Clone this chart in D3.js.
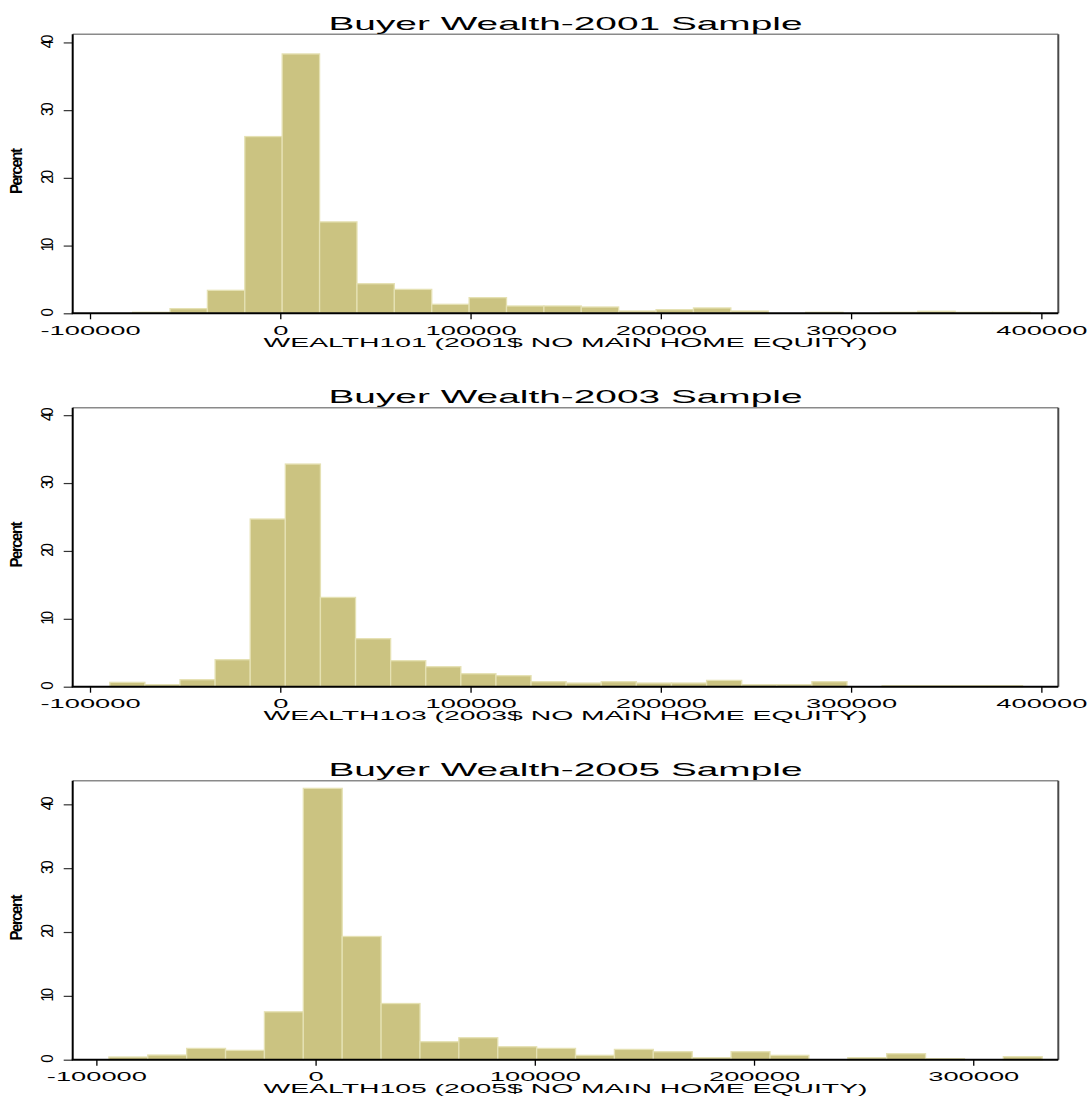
<!DOCTYPE html>
<html>
<head>
<meta charset="utf-8">
<script src="https://cdn.jsdelivr.net/npm/d3@7"></script>
<style>
  body { margin: 0; background: #fff; }
  svg { display: block; }
  text { font-family: 'Liberation Sans', Arial, Helvetica, sans-serif; fill: #000; }
</style>
</head>
<body>
<div id="chart"></div>
<script>
// values (percent per bin)
const titles = ['Buyer Wealth-2001 Sample', 'Buyer Wealth-2003 Sample', 'Buyer Wealth-2005 Sample'];
const xTitles = [
  'WEALTH101 (2001$ NO MAIN HOME EQUITY)',
  'WEALTH103 (2003$ NO MAIN HOME EQUITY)',
  'WEALTH105 (2005$ NO MAIN HOME EQUITY)'
];
const yTitle = 'Percent';
const yTicks = [0, 10, 20, 30, 40];

const xTicks2001 = [-100000, 0, 100000, 200000, 300000, 400000];
const xRange2001 = [-109100, 408900];
const yMax2001 = 41.2;
const binStart2001 = -77600;
const binWidth2001 = 19650;
const pct2001 = [0.15, 0.69, 3.39, 26.1, 38.3, 13.5, 4.37, 3.53, 1.33, 2.31, 1.08, 1.08,
  0.93, 0.34, 0.54, 0.79, 0.34, 0, 0.15, 0, 0.15, 0.3, 0.15, 0.15];

const xTicks2003 = [-100000, 0, 100000, 200000, 300000, 400000];
const xRange2003 = [-109100, 408900];
const yMax2003 = 41.1;
const binStart2003 = -89600;
const binWidth2003 = 18450;
const pct2003 = [0.64, 0.29, 1.03, 3.98, 24.7, 32.8, 13.15, 7.07, 3.83, 2.94, 1.91, 1.62, 0.74,
  0.54, 0.74, 0.54, 0.54, 0.93, 0.29, 0.29, 0.74, 0, 0.15, 0.15, 0.15, 0.15];

const xTicks2005 = [-100000, 0, 100000, 200000, 300000];
const xRange2005 = [-110800, 338800];
const yMax2005 = 43.7;
const binStart2005 = -94300;
const binWidth2005 = 17740;
const pct2005 = [0.42, 0.73, 1.77, 1.46, 7.5, 42.5, 19.3, 8.8, 2.81, 3.44, 2.03, 1.77,
  0.68, 1.61, 1.25, 0.31, 1.25, 0.68, 0, 0.31, 0.94, 0.16, 0, 0.47];

const panels = [
  {title: titles[0], xTitle: xTitles[0], ticks: xTicks2001, range: xRange2001, yMax: yMax2001, start: binStart2001, width: binWidth2001, pct: pct2001},
  {title: titles[1], xTitle: xTitles[1], ticks: xTicks2003, range: xRange2003, yMax: yMax2003, start: binStart2003, width: binWidth2003, pct: pct2003},
  {title: titles[2], xTitle: xTitles[2], ticks: xTicks2005, range: xRange2005, yMax: yMax2005, start: binStart2005, width: binWidth2005, pct: pct2005}
];

const svgWidth = 1092;
const svgHeight = 1099;
const frame = {left: 72.7, right: 1058.3, height: 279};
const panelTops = [34.3, 407.7, 780.7];
const stretch = 2.1;      // the original graph is stretched sideways
const barFill = '#cbc381';
const barEdge = '#e5e1b3';

const svg = d3.select('#chart').append('svg')
  .attr('width', svgWidth)
  .attr('height', svgHeight);

svg.append('rect').attr('width', svgWidth).attr('height', svgHeight).attr('fill', '#fff');

panels.forEach((p, i) => {
  const g = svg.append('g').attr('transform', `translate(0,${panelTops[i]})`);

  const x = d3.scaleLinear().domain(p.range).range([frame.left, frame.right]);
  const y = d3.scaleLinear().domain([0, p.yMax]).range([frame.height, 0]);
  const cx = (frame.left + frame.right) / 2;

  const bins = p.pct.map((v, k) => ({x0: p.start + k * p.width, x1: p.start + (k + 1) * p.width, v}));

  // bars
  g.selectAll('.bar')
    .data(bins.filter(d => d.v > 0))
    .enter().append('rect')
    .attr('class', 'bar')
    .attr('x', d => x(d.x0))
    .attr('width', d => x(d.x1) - x(d.x0))
    .attr('y', d => y(d.v))
    .attr('height', d => y(0) - y(d.v))
    .attr('fill', barFill)
    .attr('stroke', barEdge)
    .attr('stroke-width', 1.3);

  // frame: top and right in grey, left and bottom as black axes
  g.append('line').attr('x1', frame.left).attr('x2', frame.right).attr('y1', 0).attr('y2', 0)
    .attr('stroke', '#8a8a8a').attr('stroke-width', 1.5);
  g.append('line').attr('x1', frame.right).attr('x2', frame.right).attr('y1', 0).attr('y2', frame.height)
    .attr('stroke', '#4a4a4a').attr('stroke-width', 2);

  // x axis
  const xAxis = d3.axisBottom(x).tickValues(p.ticks).tickSize(6).tickSizeOuter(0)
    .tickFormat(d => String(d));
  const gx = g.append('g')
    .attr('transform', `translate(0,${frame.height})`)
    .call(xAxis);
  gx.select('.domain').remove();
  gx.selectAll('.tick line').attr('stroke', '#000').attr('stroke-width', 1.3);
  gx.selectAll('.tick text')
    .attr('y', 0).attr('dy', 0)
    .attr('font-size', 13)
    .attr('transform', `translate(0,21.2) scale(${stretch},1)`);

  // y axis, labels turned on their side as in the original
  const yAxis = d3.axisLeft(y).tickValues(yTicks).tickSize(9).tickSizeOuter(0);
  const gy = g.append('g')
    .attr('transform', `translate(${frame.left},0)`)
    .call(yAxis);
  gy.select('.domain').remove();
  gy.selectAll('.tick line').attr('stroke', '#333').attr('stroke-width', 1.2);
  gy.selectAll('.tick text')
    .attr('x', 0).attr('dy', '0.36em')
    .attr('text-anchor', 'middle')
    .attr('font-size', 15)
    .attr('letter-spacing', -3)
    .attr('transform', 'translate(-26,0) scale(1.15,1) rotate(-90)');

  // axis lines
  g.append('line').attr('x1', frame.left).attr('x2', frame.left).attr('y1', 0).attr('y2', frame.height)
    .attr('stroke', '#000').attr('stroke-width', 2);
  g.append('line').attr('x1', frame.left - 1).attr('x2', frame.right).attr('y1', frame.height).attr('y2', frame.height)
    .attr('stroke', '#000').attr('stroke-width', 2);

  // titles
  g.append('text')
    .attr('text-anchor', 'middle')
    .attr('font-size', 18.5)
    .attr('transform', `translate(${cx},-4.8) scale(${stretch},1)`)
    .text(p.title);

  g.append('text')
    .attr('text-anchor', 'middle')
    .attr('font-size', 13.5)
    .attr('transform', `translate(${cx},${frame.height + 33.4}) scale(${stretch},1)`)
    .text(p.xTitle);

  g.append('text')
    .attr('text-anchor', 'middle')
    .attr('font-size', 15)
    .attr('font-weight', 'bold')
    .attr('letter-spacing', -1.5)
    .attr('dy', '0.36em')
    .attr('transform', `translate(16,${frame.height / 2 - 2}) scale(1.05,1) rotate(-90)`)
    .text(yTitle);
});
</script>
</body>
</html>
